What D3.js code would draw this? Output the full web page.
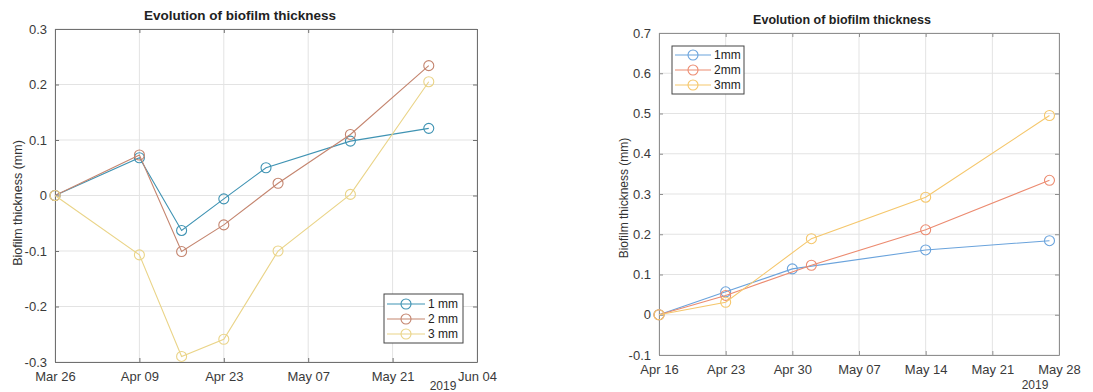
<!DOCTYPE html>
<html>
<head>
<meta charset="utf-8">
<script src="https://cdn.jsdelivr.net/npm/d3@7"></script>
<style>
  body { margin: 0; background: #fff; }
  svg { display: block; font-family: "Liberation Sans", Arial, sans-serif; }
</style>
</head>
<body>
<svg id="chart" width="1093" height="392"></svg>
<script>
// --- data, left panel (first trial) ---
const leftSeriesNames = ["1 mm", "2 mm", "3 mm"];
const leftDates1 = ["2019-03-26", "2019-04-09", "2019-04-16", "2019-04-23", "2019-04-30", "2019-05-14", "2019-05-27"];
const leftDates23 = ["2019-03-26", "2019-04-09", "2019-04-16", "2019-04-23", "2019-05-02", "2019-05-14", "2019-05-27"];
const left1mm = [0, 0.068, -0.063, -0.006, 0.050, 0.098, 0.121];
const left2mm = [0, 0.073, -0.101, -0.053, 0.022, 0.110, 0.234];
const left3mm = [0, -0.107, -0.290, -0.259, -0.100, 0.002, 0.205];
const leftXTicks = ["2019-03-26", "2019-04-09", "2019-04-23", "2019-05-07", "2019-05-21", "2019-06-04"];
const leftYTicks = [-0.3, -0.2, -0.1, 0, 0.1, 0.2, 0.3];

// --- data, right panel (second trial) ---
const rightSeriesNames = ["1mm", "2mm", "3mm"];
const rightDates1 = ["2019-04-16", "2019-04-23", "2019-04-30", "2019-05-14", "2019-05-27"];
const rightDates23 = ["2019-04-16", "2019-04-23", "2019-05-02", "2019-05-14", "2019-05-27"];
const right1mm = [0, 0.057, 0.114, 0.161, 0.184];
const right2mm = [0, 0.048, 0.123, 0.211, 0.334];
const right3mm = [0, 0.031, 0.189, 0.292, 0.495];
const rightXTicks = ["2019-04-16", "2019-04-23", "2019-04-30", "2019-05-07", "2019-05-14", "2019-05-21", "2019-05-28"];
const rightYTicks = [-0.1, 0, 0.1, 0.2, 0.3, 0.4, 0.5, 0.6, 0.7];

const parse = d3.utcParse("%Y-%m-%d");
const fmt = d3.utcFormat("%b %d");
const zip = (dates, vals) => dates.map((d, i) => ({ date: parse(d), value: vals[i] }));

const svg = d3.select("#chart");

function drawPanel(cfg) {
  const g = svg.append("g");
  const x = d3.scaleUtc()
    .domain([parse(cfg.xTicks[0]), parse(cfg.xTicks[cfg.xTicks.length - 1])])
    .range([cfg.left, cfg.right]);
  const y = d3.scaleLinear()
    .domain([cfg.yTicks[0], cfg.yTicks[cfg.yTicks.length - 1]])
    .range([cfg.bottom, cfg.top]);
  const xt = cfg.xTicks.map(parse);

  // grid
  g.append("g").selectAll("line").data(xt).join("line")
    .attr("x1", d => x(d)).attr("x2", d => x(d))
    .attr("y1", cfg.top).attr("y2", cfg.bottom)
    .attr("stroke", "#e3e3e3").attr("stroke-width", 1);
  g.append("g").selectAll("line").data(cfg.yTicks).join("line")
    .attr("x1", cfg.left).attr("x2", cfg.right)
    .attr("y1", d => y(d)).attr("y2", d => y(d))
    .attr("stroke", "#e3e3e3").attr("stroke-width", 1);

  // axes (inward ticks, full box like matlab)
  const xAxis = g.append("g").attr("transform", `translate(0,${cfg.bottom})`)
    .call(d3.axisBottom(x).tickValues(xt).tickFormat(fmt).tickSizeInner(-4).tickSizeOuter(0).tickPadding(10));
  const yAxis = g.append("g").attr("transform", `translate(${cfg.left},0)`)
    .call(d3.axisLeft(y).tickValues(cfg.yTicks).tickFormat(d => String(+d.toFixed(1))).tickSizeInner(-4).tickSizeOuter(0).tickPadding(8));
  g.append("g").attr("transform", `translate(0,${cfg.top})`)
    .call(d3.axisTop(x).tickValues(xt).tickFormat("").tickSizeInner(-4).tickSizeOuter(0));
  g.append("g").attr("transform", `translate(${cfg.right},0)`)
    .call(d3.axisRight(y).tickValues(cfg.yTicks).tickFormat("").tickSizeInner(-4).tickSizeOuter(0));
  g.selectAll(".domain, .tick line").attr("stroke", cfg.axisColor);
  xAxis.selectAll("text").attr("fill", "#3a3a3a").style("font-size", "13px");
  yAxis.selectAll("text").attr("fill", "#3a3a3a").style("font-size", "13px");

  // lines + open circle markers
  const line = d3.line().x(d => x(d.date)).y(d => y(d.value));
  cfg.series.forEach((s, i) => {
    g.append("path").datum(s.points)
      .attr("fill", "none").attr("stroke", cfg.colors[i]).attr("stroke-width", 1.1)
      .attr("d", line);
    g.append("g").selectAll("circle").data(s.points).join("circle")
      .attr("cx", d => x(d.date)).attr("cy", d => y(d.value)).attr("r", 5)
      .attr("fill", "none").attr("stroke", cfg.colors[i]).attr("stroke-width", 1.1);
  });

  // title, labels
  g.append("text").attr("x", cfg.titleX).attr("y", cfg.top - 9)
    .attr("text-anchor", "middle").style("font-size", cfg.titleSize + "px").style("font-weight", "bold")
    .attr("fill", "#222").text("Evolution of biofilm thickness");
  g.append("text")
    .attr("transform", `translate(${cfg.yLabelX},${cfg.yLabelY}) rotate(-90)`)
    .attr("text-anchor", "middle").style("font-size", cfg.yLabelSize + "px").attr("fill", "#333")
    .text("Biofilm thickness (mm)");
  g.append("text").attr("x", cfg.yearX).attr("y", cfg.yearY)
    .attr("text-anchor", "middle").style("font-size", "12px").attr("fill", "#3a3a3a").text("2019");

  // legend
  const L = cfg.legend;
  g.append("rect").attr("x", L.x).attr("y", L.y).attr("width", L.w).attr("height", L.h)
    .attr("fill", "#fff").attr("stroke", "#444").attr("stroke-width", 1);
  cfg.series.forEach((s, i) => {
    const ly = L.y + L.first + i * L.step;
    g.append("line").attr("x1", L.x + 3).attr("x2", L.x + L.lineW).attr("y1", ly).attr("y2", ly)
      .attr("stroke", cfg.colors[i]).attr("stroke-width", 1.1);
    g.append("circle").attr("cx", L.x + 3 + (L.lineW - 3) / 2).attr("cy", ly).attr("r", 5)
      .attr("fill", "none").attr("stroke", cfg.colors[i]).attr("stroke-width", 1.1);
    g.append("text").attr("x", L.x + L.lineW + 3).attr("y", ly + 4)
      .style("font-size", "12px").attr("fill", "#222").text(s.name);
  });
}

drawPanel({
  left: 55, right: 477, top: 29, bottom: 362,
  xTicks: leftXTicks, yTicks: leftYTicks,
  axisColor: "#707070",
  colors: ["#3f93b3", "#c4856f", "#ead488"],
  titleX: 240, titleSize: 13.5,
  yLabelX: 22, yLabelY: 203, yLabelSize: 12.5,
  yearX: 443, yearY: 390,
  series: [
    { name: leftSeriesNames[0], points: zip(leftDates1, left1mm) },
    { name: leftSeriesNames[1], points: zip(leftDates23, left2mm) },
    { name: leftSeriesNames[2], points: zip(leftDates23, left3mm) }
  ],
  legend: { x: 384, y: 294, w: 79, h: 49, first: 10, step: 15, lineW: 41 }
});

drawPanel({
  left: 659, right: 1059, top: 33, bottom: 355,
  xTicks: rightXTicks, yTicks: rightYTicks,
  axisColor: "#8f8f8f",
  colors: ["#6aa3dc", "#ec8b70", "#f5c76c"],
  titleX: 842, titleSize: 12.5,
  yLabelX: 628, yLabelY: 198, yLabelSize: 12,
  yearX: 1035, yearY: 389,
  series: [
    { name: rightSeriesNames[0], points: zip(rightDates1, right1mm) },
    { name: rightSeriesNames[1], points: zip(rightDates23, right2mm) },
    { name: rightSeriesNames[2], points: zip(rightDates23, right3mm) }
  ],
  legend: { x: 672, y: 46, w: 72, h: 48, first: 9, step: 15, lineW: 39 }
});
</script>
</body>
</html>
